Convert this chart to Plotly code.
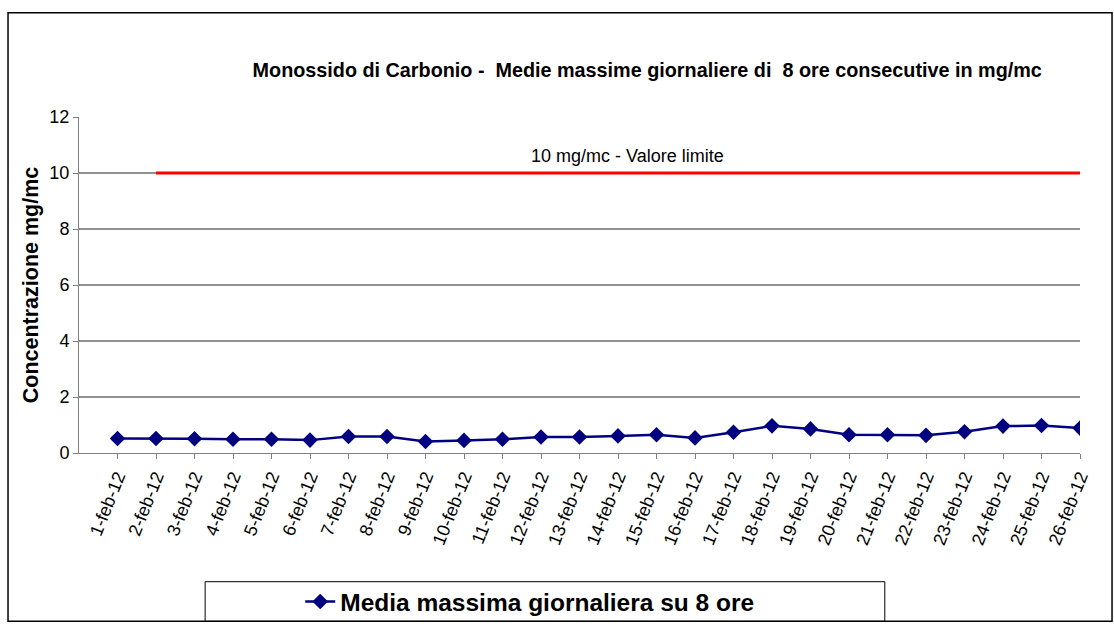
import plotly.graph_objects as go

dates = [f"{d}-feb-12" for d in range(1, 27)]
co_max8h = [0.52, 0.52, 0.51, 0.49, 0.49, 0.46, 0.59, 0.59, 0.41, 0.45,
            0.49, 0.57, 0.57, 0.61, 0.65, 0.54, 0.74, 0.97, 0.86, 0.65,
            0.65, 0.63, 0.76, 0.96, 0.98, 0.89]
limit_value = 10
limit_start = "2-feb-12"
grid_vals = [2, 4, 6, 8, 10]
y_ticks = [0, 2, 4, 6, 8, 10, 12]

FONT = "Liberation Sans, Arial, sans-serif"

fig = go.Figure()

fig.add_trace(go.Scatter(
    x=dates,
    y=co_max8h,
    mode="lines+markers",
    name="<b>Media massima giornaliera su 8 ore</b>",
    line=dict(color="#000080", width=2.5),
    marker=dict(symbol="diamond", size=12, color="#000080"),
))

# grid lines (no line at the top value)
for g in grid_vals:
    fig.add_hline(y=g, line=dict(color="#222222", width=1), layer="below")

# limit line
fig.add_shape(type="line", xref="x", yref="y",
              x0=limit_start, x1=len(dates) - 0.5, y0=limit_value, y1=limit_value,
              line=dict(color="#ff0000", width=3))
fig.add_annotation(x=13.25, y=limit_value + 0.6, xref="x", yref="y",
                   text="10 mg/mc - Valore limite", showarrow=False,
                   font=dict(size=18, color="black"))

# outer frame and legend frame
fig.add_shape(type="rect", xref="paper", yref="paper",
              x0=-0.0709, x1=1.032, y0=-0.501, y1=1.310,
              line=dict(color="black", width=1.5), layer="below")
fig.add_shape(type="rect", xref="paper", yref="paper",
              x0=0.126, x1=0.805, y0=-0.383, y1=-0.501,
              line=dict(color="black", width=1), layer="below")

fig.update_layout(
    width=1114,
    height=636,
    autosize=False,
    margin=dict(l=79, r=34, t=117, b=174),
    paper_bgcolor="white",
    plot_bgcolor="white",
    font=dict(family=FONT, color="black"),
    title=dict(
        text="<b>Monossido di Carbonio -  Medie massime giornaliere di  8 ore consecutive in mg/mc</b>",
        x=0.581, xanchor="center", y=0.89, yanchor="middle",
        font=dict(size=19.8),
    ),
    showlegend=True,
    legend=dict(
        x=0.221, xanchor="left", y=-0.442, yanchor="middle",
        orientation="h", bgcolor="rgba(0,0,0,0)",
        font=dict(size=24.5),
    ),
    xaxis=dict(
        type="category",
        range=[-1, len(dates) - 1],
        tickangle=-68,
        tickfont=dict(size=18),
        showgrid=False,
        showline=True, linecolor="#808080", linewidth=1,
        ticks="outside", ticklen=5, tickcolor="#808080",
        automargin=False,
    ),
    yaxis=dict(
        range=[0, 12],
        tickvals=y_ticks,
        tickfont=dict(size=18),
        showgrid=False,
        zeroline=False,
        showline=True, linecolor="#808080", linewidth=1,
        ticks="outside", ticklen=5, tickcolor="#808080",
        title=dict(text="<b>Concentrazione mg/mc</b>", font=dict(size=21.5), standoff=4),
        automargin=False,
    ),
)

fig.write_html("out.html", post_script="document.body.style.margin='0';",
               config={"responsive": False, "displayModeBar": False})
